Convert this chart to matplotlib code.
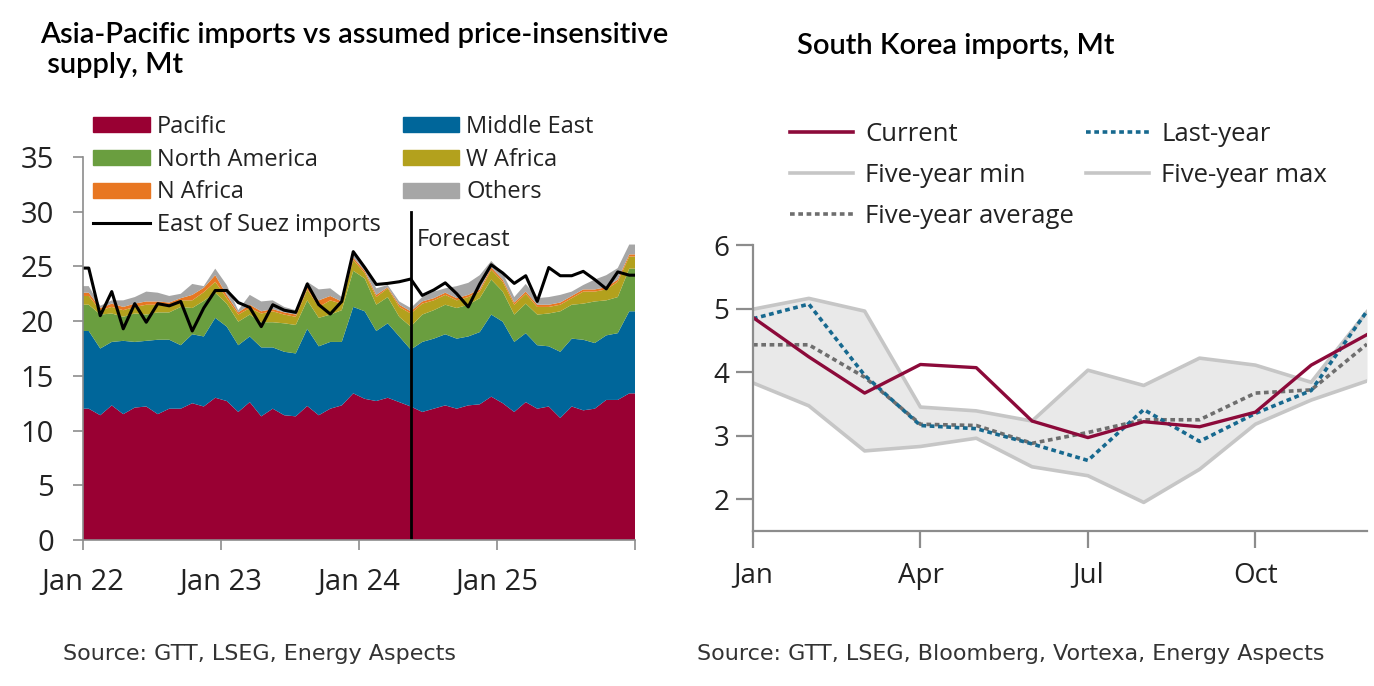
import numpy as np
import matplotlib
matplotlib.use("Agg")
import matplotlib.pyplot as plt
from matplotlib import font_manager
from matplotlib.patches import Patch
from matplotlib.lines import Line2D

# ---- left chart: Asia-Pacific imports, Mt (monthly Jan 22 - Dec 25)
pacific = [12.0, 11.4, 12.3, 11.5, 12.1, 12.2, 11.5, 12.0, 12.0, 12.5, 12.2, 13.0,
           12.7, 11.7, 12.6, 11.3, 12.0, 11.4, 11.3, 12.25, 11.4, 12.0, 12.3, 13.4,
           12.9, 12.7, 13.0, 12.6, 12.2, 11.7, 12.0, 12.3, 12.0, 12.3, 12.4, 13.1,
           12.5, 11.7, 12.6, 12.0, 12.2, 11.15, 12.2, 11.85, 12.0, 12.8, 12.8, 13.4]
middle_east = [7.1, 6.1, 5.8, 6.7, 6.0, 6.0, 6.8, 6.3, 5.8, 6.3, 6.4, 7.3,
               6.8, 6.1, 6.0, 6.3, 5.6, 5.8, 5.75, 7.05, 6.3, 6.1, 5.8, 7.9,
               8.0, 6.4, 6.8, 6.0, 5.2, 6.4, 6.4, 6.5, 6.4, 6.3, 6.6, 7.5,
               7.45, 6.4, 6.3, 5.8, 5.5, 6.05, 6.2, 6.45, 6.0, 5.9, 6.1, 7.5]
north_america = [2.4, 3.1, 2.6, 2.2, 2.6, 2.4, 2.5, 2.5, 3.5, 2.4, 3.25, 2.3,
                 2.1, 2.15, 2.0, 2.3, 2.3, 2.6, 2.6, 2.6, 2.6, 2.5, 2.9, 3.3,
                 3.0, 2.4, 2.4, 1.8, 2.1, 2.5, 2.6, 2.7, 2.8, 2.9, 3.1, 3.2,
                 2.75, 2.5, 2.7, 2.8, 3.0, 3.7, 3.1, 3.3, 3.8, 3.2, 3.3, 3.9]
w_africa = [0.8, 0.4, 0.6, 0.6, 0.6, 0.9, 0.7, 0.6, 0.6, 0.7, 0.8, 1.0,
            0.5, 0.65, 0.6, 0.8, 1.0, 0.8, 0.75, 1.0, 1.0, 1.3, 0.6, 1.0,
            0.5, 0.7, 0.8, 0.9, 1.2, 1.0, 0.9, 0.9, 0.7, 0.7, 0.6, 0.9,
            0.9, 0.9, 0.9, 0.7, 0.6, 0.6, 0.6, 1.1, 0.9, 1.0, 1.4, 1.1]
n_africa = [0.3, 0.2, 0.3, 0.3, 0.3, 0.3, 0.3, 0.3, 0.2, 0.5, 0.4, 0.6,
            0.3, 0.2, 0.3, 0.2, 0.2, 0.2, 0.2, 0.2, 0.6, 0.4, 0.2, 0.2,
            0.2, 0.2, 0.1, 0.2, 0.2, 0.2, 0.2, 0.2, 0.2, 0.2, 0.2, 0.2,
            0.2, 0.2, 0.2, 0.2, 0.2, 0.2, 0.2, 0.2, 0.2, 0.2, 0.2, 0.2]
others = [0.6, 0.2, 0.3, 0.6, 0.6, 0.9, 0.8, 0.6, 0.4, 1.0, 0.15, 0.6,
          0.9, 0.2, 0.9, 0.9, 0.8, 0.5, 0.4, 0.5, 1.0, 0.7, 0.4, 0.7,
          0.4, 0.6, 0.2, 0.3, 0.3, 0.4, 0.6, 0.4, 1.1, 1.1, 1.3, 0.6,
          0.6, 0.5, 0.7, 0.6, 0.7, 0.7, 0.4, 0.4, 0.9, 1.1, 1.05, 0.9]
east_of_suez = [24.85, 20.5, 22.7, 19.3, 21.6, 19.9, 21.6, 21.4, 21.8, 19.1, 21.2, 22.8,
                22.8, 21.7, 21.25, 19.5, 21.5, 21.0, 20.8, 23.4, 21.5, 20.65, 21.8, 26.35,
                24.9, 23.35, 23.45, 23.6, 23.85, 22.35, 22.85, 23.5, 22.5, 21.3, 23.4, 25.15,
                24.4, 23.45, 24.15, 21.8, 24.9, 24.15, 24.15, 24.55, 23.8, 22.95, 24.5, 24.2]
year_labels = ["Jan 22", "Jan 23", "Jan 24", "Jan 25", ""]
forecast_month = 28  # May 24

# ---- right chart: South Korea imports, Mt
months = ["Jan", "Feb", "Mar", "Apr", "May", "Jun", "Jul", "Aug", "Sep", "Oct", "Nov", "Dec"]
current = [4.86, 4.24, 3.67, 4.12, 4.07, 3.23, 2.97, 3.22, 3.14, 3.37, 4.11, 4.59]
last_year = [4.84, 5.07, 3.95, 3.16, 3.11, 2.87, 2.61, 3.41, 2.91, 3.35, 3.71, 4.96]
five_avg = [4.43, 4.43, 3.92, 3.18, 3.16, 2.88, 3.05, 3.25, 3.25, 3.67, 3.72, 4.44]
five_max = [4.99, 5.16, 4.96, 3.45, 3.39, 3.23, 4.03, 3.79, 4.22, 4.11, 3.84, 4.95]
five_min = [3.83, 3.47, 2.76, 2.83, 2.96, 2.51, 2.37, 1.95, 2.47, 3.18, 3.56, 3.86]


def pick(*names):
    have = {f.name for f in font_manager.fontManager.ttflist}
    for n in names:
        if n in have:
            return n
    return "DejaVu Sans"


body_font = pick("Open Sans", "Noto Sans")
title_font = pick("Lato", "Noto Sans")

plt.rcParams["font.family"] = [body_font, "DejaVu Sans"]

W, H = 1374, 686
fig = plt.figure(figsize=(W / 100, H / 100), dpi=100)

axis_grey = "#8c8c8c"
txt = "#222222"

# ---------------- left chart
ax = fig.add_axes([83 / W, 1 - 540 / H, 552 / W, 383 / H])
n = len(pacific)
x = np.concatenate([[0], np.arange(n) + 0.5, [n]])
pad = lambda a: np.pad(np.asarray(a, float), 1, mode="edge")

cols = ["#990033", "#00669a", "#6a9e3f", "#b3a11d", "#e87722", "#a6a6a6"]
series = [pacific, middle_east, north_america, w_africa, n_africa, others]
ax.stackplot(x, *[pad(s) for s in series], colors=cols, linewidth=0)
ax.plot(x, pad(east_of_suez), color="black", lw=2.2)
ax.plot([forecast_month + 0.5] * 2, [0, 30], color="black", lw=2)
ax.text(forecast_month + 0.5 + 0.5, 27.4, "Forecast", fontsize=17, color=txt,
        ha="left", va="center")

ax.set_xlim(0, n)
ax.set_ylim(0, 35)
ax.set_xticks(np.arange(0, n + 1, 12))
ax.set_xticklabels(year_labels)
ax.set_yticks(range(0, 36, 5))
for s in ["top", "right"]:
    ax.spines[s].set_visible(False)
for s in ["left", "bottom"]:
    ax.spines[s].set_color(axis_grey)
    ax.spines[s].set_linewidth(1.2)
ax.tick_params(axis="y", colors=axis_grey, labelcolor=txt, length=7, width=1.2,
               labelsize=21, pad=14)
ax.tick_params(axis="x", colors=axis_grey, labelcolor=txt, length=7, width=1.2,
               labelsize=21, pad=13)

handles = [Patch(color=cols[0]), Patch(color=cols[2]), Patch(color=cols[4]),
           Line2D([], [], color="black", lw=2.2),
           Patch(color=cols[1]), Patch(color=cols[3]), Patch(color=cols[5])]
labels = ["Pacific", "North America", "N Africa", "East of Suez imports",
          "Middle East", "W Africa", "Others"]
leg = ax.legend(handles, labels, ncol=2, loc="upper left",
                bbox_to_anchor=(93 / W, 1 - 115 / H), bbox_transform=fig.transFigure,
                frameon=False, fontsize=17, handlelength=2.4, handleheight=0.62,
                handletextpad=0.3, labelspacing=0.37, columnspacing=0.93, borderpad=0,
                borderaxespad=0)
for t in leg.get_texts():
    t.set_color(txt)

fig.text(40 / W, 1 - 22 / H, "Asia-Pacific imports vs assumed price-insensitive\n supply, Mt",
         fontsize=21, fontfamily=title_font, fontweight=600, color="black",
         ha="left", va="top", linespacing=1.2)
fig.text(63 / W, 1 - 660 / H, "Source: GTT, LSEG, Energy Aspects",
         fontsize=16, fontfamily="DejaVu Sans", color="#333333", ha="left", va="baseline")

# ---------------- right chart
ax2 = fig.add_axes([753 / W, 1 - 531 / H, 614 / W, 286 / H])
m = np.arange(len(months))
ax2.fill_between(m, five_min, five_max, color="#e9e9e9", lw=0)
band_grey = "#c6c6c6"
ax2.plot(m, five_min, color=band_grey, lw=2.6)
ax2.plot(m, five_max, color=band_grey, lw=2.6)
ax2.plot(m, five_avg, color="#6e6e6e", lw=2.6, dashes=(1.3, 1.0))
ax2.plot(m, last_year, color="#17698f", lw=2.6, dashes=(1.3, 1.0))
ax2.plot(m, current, color="#8c0a3a", lw=2.4)

ax2.set_xlim(0, len(months) - 1)
ax2.set_ylim(1.5, 6)
ax2.set_xticks([0, 3, 6, 9])
ax2.set_xticklabels([months[i] for i in [0, 3, 6, 9]])
ax2.set_yticks([2, 3, 4, 5, 6])
for s in ["top", "right"]:
    ax2.spines[s].set_visible(False)
for s in ["left", "bottom"]:
    ax2.spines[s].set_color(axis_grey)
    ax2.spines[s].set_linewidth(1.6)
ax2.tick_params(axis="y", colors=axis_grey, labelcolor=txt, length=12, width=1.6,
                labelsize=20, pad=5)
ax2.tick_params(axis="x", colors=axis_grey, labelcolor=txt, length=12, width=1.6,
                labelsize=20, pad=10)

h2 = [Line2D([], [], color="#8c0a3a", lw=2.6),
      Line2D([], [], color=band_grey, lw=2.6),
      Line2D([], [], color="#6e6e6e", lw=2.6, dashes=(1.3, 1.0)),
      Line2D([], [], color="#17698f", lw=2.6, dashes=(1.3, 1.0)),
      Line2D([], [], color=band_grey, lw=2.6)]
l2 = ["Current", "Five-year min", "Five-year average", "Last-year", "Five-year max"]
leg2 = ax2.legend(h2, l2, ncol=2, loc="upper left",
                  bbox_to_anchor=(790 / W, 1 - 122 / H), bbox_transform=fig.transFigure,
                  frameon=False, fontsize=18.5, handlelength=2.45, handletextpad=0.47,
                  labelspacing=0.63, columnspacing=0.47, borderpad=0, borderaxespad=0)
for t in leg2.get_texts():
    t.set_color(txt)

fig.text(797 / W, 1 - 54 / H, "South Korea imports, Mt",
         fontsize=21, fontfamily=title_font, fontweight=600, color="black",
         ha="left", va="baseline")
fig.text(697 / W, 1 - 660 / H, "Source: GTT, LSEG, Bloomberg, Vortexa, Energy Aspects",
         fontsize=16, fontfamily="DejaVu Sans", color="#333333", ha="left", va="baseline")

fig.savefig("out.png", dpi=100)
